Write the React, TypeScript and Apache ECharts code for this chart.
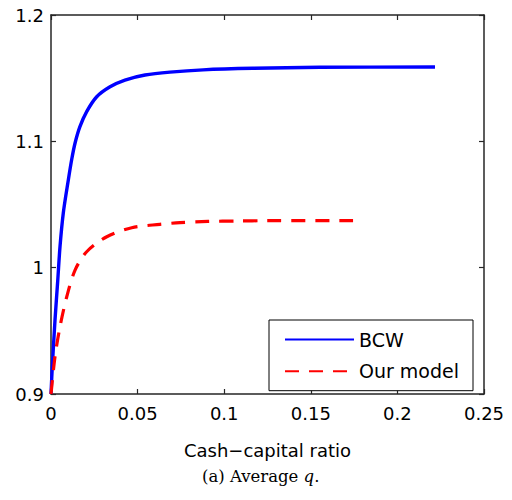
import React, { useEffect, useRef } from "react";
import * as echarts from "echarts";

const bcwX = [0, 0.00075, 0.0023, 0.0039, 0.0052, 0.0071, 0.0100, 0.0120, 0.0139, 0.0167, 0.0206, 0.0264, 0.0341, 0.0427, 0.0543, 0.0687, 0.0878, 0.1166, 0.1553, 0.2217];
const bcwY = [0.9, 0.9216, 0.9583, 0.9899, 1.0166, 1.0433, 1.0694, 1.0860, 1.0987, 1.1116, 1.1235, 1.1353, 1.1432, 1.1485, 1.1525, 1.1548, 1.1566, 1.1578, 1.1586, 1.1588];
const modelX = [0, 0.0023, 0.0052, 0.0091, 0.0139, 0.0206, 0.0322, 0.0466, 0.0629, 0.0745, 0.0906, 0.1074, 0.1247, 0.1744];
const modelY = [0.9, 0.9295, 0.9533, 0.977, 0.9981, 1.0126, 1.0245, 1.0316, 1.0343, 1.0357, 1.0366, 1.0369, 1.0372, 1.0372];
const seriesNames = ["BCW", "Our model"];
const xTitle = "Cash\u2212capital ratio";
const caption = "(a) Average ";

export default function App() {
  const ref = useRef<HTMLDivElement>(null);
  useEffect(() => {
    if (!ref.current) return;
    const chart = echarts.init(ref.current, null, { renderer: "svg" });
    const font = "DejaVu Sans";
    const axisColor = "#262626";
    const tickStyle = { show: true, inside: true, length: 5, lineStyle: { color: axisColor, width: 1.2 } };
    chart.setOption({
      animation: false,
      backgroundColor: "#fff",
      grid: { left: 51, right: 28, top: 15, bottom: 106, containLabel: false },
      legend: {
        orient: "vertical",
        left: 269,
        top: 320,
        padding: [10, 14, 10, 15],
        itemWidth: 69,
        itemHeight: 14,
        itemGap: 12.7,
        borderColor: "#000",
        borderWidth: 1,
        backgroundColor: "#fff",
        borderRadius: 0,
        itemStyle: { opacity: 0 },
        textStyle: { fontFamily: font, fontSize: 19, color: "#000" },
        data: seriesNames,
      },
      xAxis: [
        {
          type: "value", min: 0, max: 0.25, interval: 0.05,
          splitLine: { show: false },
          axisLine: { show: true, onZero: false, lineStyle: { color: axisColor, width: 1.5 } },
          axisTick: tickStyle,
          axisLabel: { fontFamily: font, fontSize: 18, color: "#000", margin: 10 },
          name: xTitle, nameLocation: "middle", nameGap: 47,
          nameTextStyle: { fontFamily: font, fontSize: 18, color: "#000" },
        },
        {
          type: "value", min: 0, max: 0.25, interval: 0.05, position: "top",
          splitLine: { show: false },
          axisLine: { show: true, onZero: false, lineStyle: { color: axisColor, width: 1.5 } },
          axisTick: tickStyle,
          axisLabel: { show: false },
        },
      ],
      yAxis: [
        {
          type: "value", min: 0.9, max: 1.2, interval: 0.1,
          splitLine: { show: false },
          axisLine: { show: true, onZero: false, lineStyle: { color: axisColor, width: 1.5 } },
          axisTick: tickStyle,
          axisLabel: { fontFamily: font, fontSize: 18, color: "#000", margin: 7 },
        },
        {
          type: "value", min: 0.9, max: 1.2, interval: 0.1, position: "right",
          splitLine: { show: false },
          axisLine: { show: true, onZero: false, lineStyle: { color: axisColor, width: 1.5 } },
          axisTick: tickStyle,
          axisLabel: { show: false },
        },
      ],
      graphic: [
        {
          type: "text",
          left: 262 - 60,
          top: 468,
          style: {
            text: caption + "{q|q}.",
            font: "16.5px 'DejaVu Serif'",
            fill: "#000",
            rich: { q: { fontFamily: "DejaVu Serif", fontStyle: "italic", fontSize: 16.5, fill: "#000" } },
          },
        },
      ],
      series: [
        {
          name: seriesNames[0], type: "line", xAxisIndex: 0, yAxisIndex: 0,
          data: bcwX.map((x, i) => [x, bcwY[i]]),
          symbol: "none", smooth: 0.3,
          lineStyle: { color: "#0000ff", width: 3.4, join: "round" }, itemStyle: { color: "#0000ff" },
        },
        {
          name: seriesNames[1], type: "line", xAxisIndex: 0, yAxisIndex: 0,
          data: modelX.map((x, i) => [x, modelY[i]]),
          symbol: "none", smooth: 0.3,
          lineStyle: { color: "#ff0000", width: 3.2, type: [14, 10] }, itemStyle: { color: "#ff0000" },
        },
      ],
    });
    return () => chart.dispose();
  }, []);
  return <div ref={ref} style={{ position: "absolute", left: 0, top: 0, width: 512, height: 500, background: "#fff" }} />;
}
